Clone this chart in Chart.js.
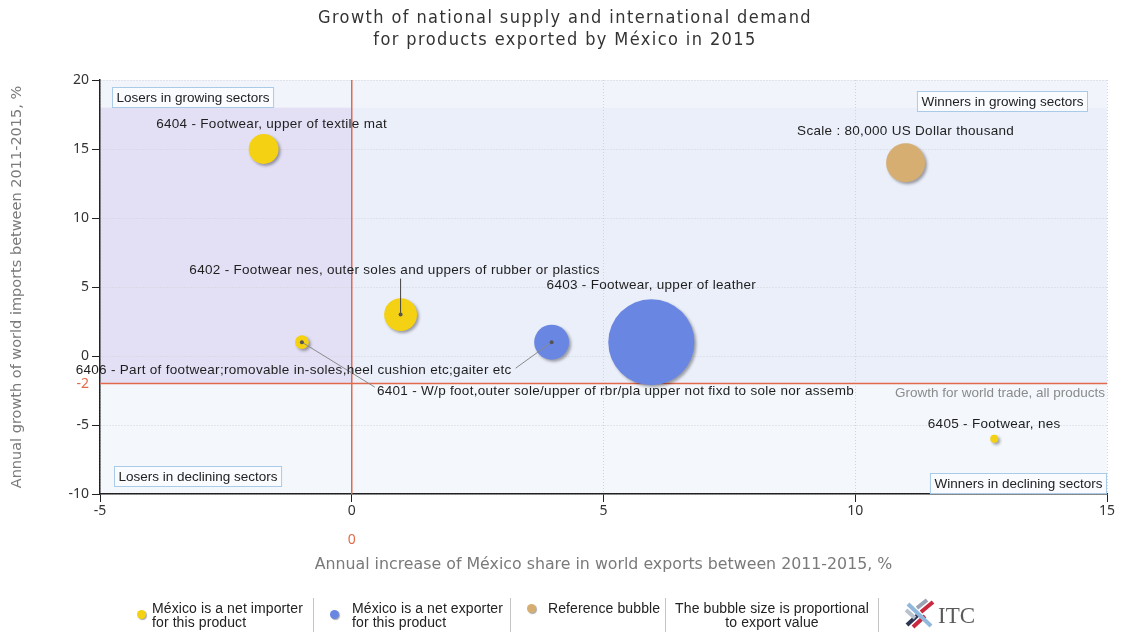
<!DOCTYPE html>
<html>
<head>
<meta charset="utf-8">
<title>México footwear exports 2015</title>
<script src="https://cdn.jsdelivr.net/npm/chart.js@4.4.1/dist/chart.umd.min.js"></script>
<style>
html, body { margin: 0; padding: 0; background: #fff; }
#wrap { position: relative; width: 1121px; height: 632px; overflow: hidden; }
#chart { display: block; }
.lg { position: absolute; font-family: "Liberation Sans", Arial, sans-serif; font-size: 14px; color: #222; line-height: 14px; letter-spacing: 0.1px; }
.dot { position: absolute; width: 9px; height: 9px; border-radius: 50%; box-shadow: 1px 1px 1px rgba(0,0,0,0.35); }
.sep { position: absolute; top: 598px; width: 1px; height: 34px; background: #c4c4c4; }
</style>
</head>
<body>
<div id="wrap">
  <canvas id="chart" width="1121" height="632"></canvas>

  <div class="dot" style="left:137px; top:610px; background:#f4d113;"></div>
  <div class="lg" style="left:152px; top:601px;">México is a net importer<br>for this product</div>
  <div class="sep" style="left:313px;"></div>

  <div class="dot" style="left:330px; top:610px; background:#6a86e3;"></div>
  <div class="lg" style="left:352px; top:601px;">México is a net exporter<br>for this product</div>
  <div class="sep" style="left:510px;"></div>

  <div class="dot" style="left:527px; top:604px; background:#d6ae72;"></div>
  <div class="lg" style="left:548px; top:601px;">Reference bubble</div>
  <div class="sep" style="left:665px;"></div>

  <div class="lg" style="left:666px; top:601px; width:212px; text-align:center;">The bubble size is proportional<br>to export value</div>
  <div class="sep" style="left:878px;"></div>

  <svg style="position:absolute; left:903px; top:598px;" width="90" height="32" viewBox="0 0 90 32">
    <g stroke-width="4" stroke-linecap="butt">
      <line x1="4" y1="27" x2="16" y2="16" stroke="#2b3553"/>
      <line x1="10" y1="29" x2="22" y2="18" stroke="#c9283e"/>
      <line x1="18" y1="14" x2="30" y2="4" stroke="#c9283e"/>
      <line x1="14" y1="10" x2="24" y2="2" stroke="#9aa3b5"/>
      <line x1="5" y1="6" x2="28" y2="28" stroke="#8fb8dc"/>
      <line x1="3" y1="12" x2="12" y2="20" stroke="#b9c2cf"/>
    </g>
    <text x="35" y="25" font-family="Liberation Serif, DejaVu Serif, serif" font-size="23" fill="#5a5a5a">ITC</text>
  </svg>
</div>

<script>
// =====================
// DATA
// =====================
const productCodes = ['6404', '6402', '6401', '6403', '6406', '6405'];
const productNames = [
    'Footwear, upper of textile mat',
    'Footwear nes, outer soles and uppers of rubber or plastics',
    'W/p foot,outer sole/upper of rbr/pla upper not fixd to sole nor assemb',
    'Footwear, upper of leather',
    'Part of footwear;romovable in-soles,heel cushion etc;gaiter etc',
    'Footwear, nes'
];
// annual increase of México share in world exports 2011-2015, %
const shareGrowth = [-1.75, 0.97, -0.99, 5.95, 3.97, 12.76];
// annual growth of world imports 2011-2015, %
const importGrowth = [15, 3, 1, 1, 1, -6];
// export value, US Dollar thousand
const exportValue = [47000, 57000, 10000, 390000, 64000, 3400];
const tradeStatus = ['importer', 'importer', 'importer', 'exporter', 'exporter', 'importer'];

const refX = 11;
const refY = 14;
const refValue = 80000;
const worldTradeGrowth = -2;

const xTicks = [-5, 0, 5, 10, 15];
const yTicks = [-10, -5, 0, 5, 10, 15, 20];

// =====================
// STYLE
// =====================
const REF_RADIUS = 19.5;
const YELLOW = '#f4d113';
const BLUE = '#6a86e3';
const TAN = '#d6ae72';
const RED = '#e26a4c';
const LABEL_FONT = '13.5px "Liberation Sans", Arial, sans-serif';
const TICK_FONT = { family: '"Noto Sans", "Open Sans", sans-serif', size: 14 };

// label offsets in pixels from the bubble centre
const labelPos = {
    '6404': { dx: 8, dy: -25, align: 'center' },
    '6402': { dx: -6, dy: -44, align: 'center', leader: [0, -36], leaderColor: '#444' },
    '6401': { dx: 75, dy: 49, align: 'left', leader: [73, 45], leaderColor: '#8a8a8a' },
    '6403': { dx: 0, dy: -57, align: 'center' },
    '6406': { dx: -40, dy: 28, align: 'right', leader: [-36, 26], leaderColor: '#8a8a8a' },
    '6405': { dx: 0, dy: -15, align: 'center' }
};

function radiusFor(v) { return REF_RADIUS * Math.sqrt(v / refValue); }

function pointsFor(status) {
    const pts = [];
    productCodes.forEach((code, i) => {
        if (tradeStatus[i] !== status) return;
        pts.push({ x: shareGrowth[i], y: importGrowth[i], r: radiusFor(exportValue[i]), code: code, name: productNames[i] });
    });
    return pts;
}

// =====================
// PLUGIN: backgrounds, reference lines, labels
// =====================
const mapPlugin = {
    id: 'tradeMap',
    beforeDraw(chart) {
        const { ctx, chartArea: a, scales: { x, y } } = chart;
        const top18 = y.getPixelForValue(18);
        const yWorld = y.getPixelForValue(worldTradeGrowth);
        const x0 = x.getPixelForValue(0);
        ctx.save();
        ctx.fillStyle = '#f4f8fd';
        ctx.fillRect(a.left, a.top, a.width, a.height);
        ctx.fillStyle = '#f1f4fb';
        ctx.fillRect(a.left, a.top, a.width, top18 - a.top);
        ctx.fillStyle = '#ebeffa';
        ctx.fillRect(x0, top18, a.right - x0, yWorld - top18);
        ctx.fillStyle = '#e3e0f6';
        ctx.fillRect(a.left, top18, x0 - a.left, yWorld - top18);
        ctx.restore();
    },
    beforeDatasetsDraw(chart) {
        const { ctx, chartArea: a, scales: { x, y } } = chart;
        const x0 = x.getPixelForValue(0);
        const yWorld = y.getPixelForValue(worldTradeGrowth);
        ctx.save();
        ctx.strokeStyle = RED;
        ctx.lineWidth = 1.5;
        ctx.beginPath();
        ctx.moveTo(x0, a.top); ctx.lineTo(x0, a.bottom);
        ctx.moveTo(a.left, yWorld); ctx.lineTo(a.right, yWorld);
        ctx.stroke();

        // red marker labels on the axes
        ctx.fillStyle = RED;
        ctx.font = TICK_FONT.size + 'px ' + TICK_FONT.family;
        ctx.textAlign = 'right';
        ctx.textBaseline = 'middle';
        ctx.fillText(String(worldTradeGrowth), a.left - 11, yWorld);
        ctx.textAlign = 'center';
        ctx.fillText('0', x0, a.bottom + 46);

        ctx.fillStyle = '#8a8a8a';
        ctx.font = '13.5px "Liberation Sans", Arial, sans-serif';
        ctx.textAlign = 'right';
        ctx.fillText('Growth for world trade, all products', a.right - 2, yWorld + 10);
        ctx.restore();

        // shadow for the bubbles
        ctx.save();
        ctx.shadowColor = 'rgba(0,0,0,0.35)';
        ctx.shadowOffsetX = 2;
        ctx.shadowOffsetY = 2;
        ctx.shadowBlur = 3;
    },
    afterDatasetsDraw(chart) {
        const { ctx, chartArea: a } = chart;
        ctx.restore();

        ctx.save();
        ctx.font = LABEL_FONT;
        ctx.letterSpacing = '0.3px';
        ctx.textBaseline = 'middle';
        chart.data.datasets.forEach((ds, di) => {
            const meta = chart.getDatasetMeta(di);
            ds.data.forEach((p, j) => {
                const el = meta.data[j];
                if (p.code === 'ref') {
                    ctx.fillStyle = '#222';
                    ctx.textAlign = 'center';
                    ctx.fillText('Scale : 80,000 US Dollar thousand', el.x, el.y - 32);
                    return;
                }
                const lp = labelPos[p.code];
                if (lp.leader) {
                    ctx.strokeStyle = lp.leaderColor;
                    ctx.lineWidth = 1;
                    ctx.beginPath();
                    ctx.moveTo(el.x, el.y);
                    ctx.lineTo(el.x + lp.leader[0], el.y + lp.leader[1]);
                    ctx.stroke();
                    ctx.fillStyle = '#555';
                    ctx.beginPath();
                    ctx.arc(el.x, el.y, 2, 0, Math.PI * 2);
                    ctx.fill();
                }
                ctx.fillStyle = '#1e1e1e';
                ctx.textAlign = lp.align;
                ctx.fillText(p.code + ' - ' + p.name, el.x + lp.dx, el.y + lp.dy);
            });
        });

        // quadrant captions
        const boxes = [
            { text: 'Losers in growing sectors', left: a.left + 12, top: a.top + 7 },
            { text: 'Winners in growing sectors', right: a.right - 19, top: a.top + 11 },
            { text: 'Losers in declining sectors', left: a.left + 14, bottom: a.bottom - 7 },
            { text: 'Winners in declining sectors', right: a.right, bottom: a.bottom }
        ];
        ctx.font = '13.5px "Liberation Sans", Arial, sans-serif';
        ctx.letterSpacing = '0px';
        boxes.forEach(b => {
            const w = ctx.measureText(b.text).width + 9;
            const h = 21;
            const left = b.left !== undefined ? b.left : b.right - w;
            const top = b.top !== undefined ? b.top : b.bottom - h;
            ctx.fillStyle = 'rgba(250,252,255,0.85)';
            ctx.fillRect(left, top, w, h);
            ctx.strokeStyle = '#a9cbe8';
            ctx.lineWidth = 1;
            ctx.strokeRect(left + 0.5, top + 0.5, w - 1, h - 1);
            ctx.fillStyle = '#222';
            ctx.textAlign = 'left';
            ctx.fillText(b.text, left + 4.5, top + h / 2 + 0.5);
        });

        // title
        ctx.fillStyle = '#333';
        ctx.font = '18px "DejaVu Sans Condensed", "DejaVu Sans", sans-serif';
        ctx.letterSpacing = '1.4px';
        ctx.textAlign = 'center';
        ctx.fillText('Growth of national supply and international demand', 565, 18);
        ctx.fillText('for products exported by México in 2015', 565, 40);
        ctx.restore();
    }
};

// =====================
// CHART
// =====================
const axisGrid = {
    color: '#cfd3da',
    tickColor: '#222',
    tickLength: 8,
    tickWidth: 1
};
const axisBorder = { color: '#222', width: 1.5, dash: [1, 2] };

new Chart(document.getElementById('chart'), {
    type: 'bubble',
    data: {
        datasets: [
            { label: 'México is a net importer', data: pointsFor('importer'), backgroundColor: YELLOW, borderWidth: 0 },
            { label: 'México is a net exporter', data: pointsFor('exporter'), backgroundColor: BLUE, borderWidth: 0 },
            { label: 'Reference bubble', data: [{ x: refX, y: refY, r: radiusFor(refValue), code: 'ref' }], backgroundColor: TAN, borderWidth: 0 }
        ]
    },
    options: {
        responsive: false,
        animation: false,
        layout: { autoPadding: false, padding: { top: 80, left: 0, right: 14, bottom: 56 } },
        plugins: {
            legend: { display: false },
            tooltip: { enabled: false },
            title: { display: false }
        },
        elements: { point: { hoverRadius: 0 } },
        scales: {
            x: {
                type: 'linear', min: xTicks[0], max: xTicks[xTicks.length - 1],
                afterBuildTicks: s => { s.ticks = xTicks.map(v => ({ value: v })); },
                afterFit: s => { s.height = 82; },
                ticks: { color: '#333', font: TICK_FONT, padding: 1, maxRotation: 0 },
                grid: axisGrid,
                border: axisBorder,
                title: {
                    display: true,
                    text: 'Annual increase of México share in world exports between 2011-2015, %',
                    color: '#7a7a7a',
                    font: { family: '"DejaVu Sans", sans-serif', size: 15.8 },
                    padding: { top: 0, bottom: 2 }
                }
            },
            y: {
                type: 'linear', min: yTicks[0], max: yTicks[yTicks.length - 1],
                afterBuildTicks: s => { s.ticks = yTicks.map(v => ({ value: v })); },
                afterFit: s => { s.width = 100; },
                ticks: { color: '#333', font: TICK_FONT, padding: 3 },
                grid: axisGrid,
                border: axisBorder,
                title: {
                    display: true,
                    text: 'Annual growth of world imports between 2011-2015, %',
                    color: '#7a7a7a',
                    font: { family: '"DejaVu Sans", sans-serif', size: 14.5 },
                    padding: { top: 9, bottom: 0 }
                }
            }
        }
    },
    plugins: [mapPlugin]
});
</script>
</body>
</html>
